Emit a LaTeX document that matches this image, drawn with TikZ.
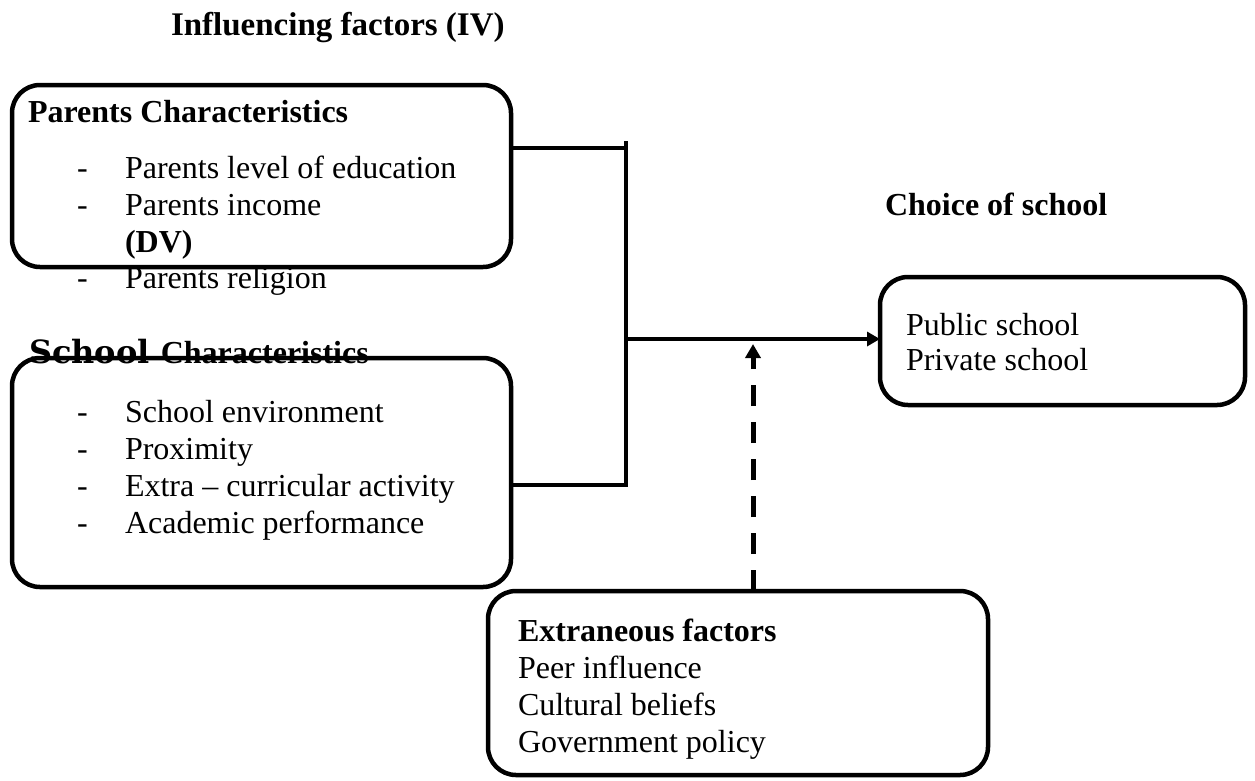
\documentclass[tikz,border=0pt]{standalone}
\usepackage{fontspec}
\setmainfont{Liberation Serif}
\newfontfamily\dvsfont{DejaVu Serif}
\usetikzlibrary{arrows.meta}
\tikzset{
  box/.style={draw, line width=4.5pt, rounded corners=28pt, inner sep=0pt, outer sep=0pt, anchor=north west},
  txt/.style={anchor=base west, inner sep=0pt, outer sep=0pt, font=\fontsize{32}{37}\selectfont},
  btxt/.style={txt, font=\fontsize{32}{37}\selectfont\bfseries},
  conn/.style={line width=4.5pt},
  dashline/.style={line width=5pt, dash pattern=on 21pt off 16pt}
}
\begin{document}
\begin{tikzpicture}[x=1pt,y=-1pt]
\useasboundingbox (0,0) rectangle (1255,780);
% boxes
\node[box, minimum width=499pt, minimum height=182pt] (pbox) at (12,85) {};
\node[box, minimum width=499pt, minimum height=229pt] (sbox) at (12,358) {};
\node[box, minimum width=365pt, minimum height=128pt] (cbox) at (880,277) {};
\node[box, minimum width=500pt, minimum height=184pt] (ebox) at (488,591) {};
% title
\node[btxt, font=\fontsize{33}{37}\selectfont\bfseries] (title) at (171,35) {Influencing factors (IV)};
% parents
\node[btxt] (ph) at (28,122) {Parents Characteristics};
\node[txt] (pd1) at (77,178) {-};
\node[txt] (p1) at (125,178) {Parents level of education};
\node[txt] (pd2) at (77,215) {-};
\node[txt] (p2) at (125,215) {Parents income};
\node[btxt] (dv) at (125,252) {(DV)};
\node[txt] (pd3) at (77,288) {-};
\node[txt] (p3) at (125,288) {Parents religion};
% school
\node[txt] (sh) at (29,363) {\dvsfont\bfseries School \rmfamily Characteristics};
\node[txt] (sd1) at (77,422) {-};
\node[txt] (s1) at (125,422) {School environment};
\node[txt] (sd2) at (77,459) {-};
\node[txt] (s2) at (125,459) {Proximity};
\node[txt] (sd3) at (77,496) {-};
\node[txt] (s3) at (125,496) {Extra -- curricular activity};
\node[txt] (sd4) at (77,533) {-};
\node[txt] (s4) at (125,533) {Academic performance};
% choice
\node[btxt] (ch) at (885,215) {Choice of school};
\node[txt] (c1) at (906,335) {Public school};
\node[txt] (c2) at (906,370) {Private school};
% extraneous
\node[btxt] (eh) at (518,641) {Extraneous factors};
\node[txt] (e1) at (518,678) {Peer influence};
\node[txt] (e2) at (518,715) {Cultural beliefs};
\node[txt] (e3) at (518,752) {Government policy};
% connectors
\coordinate (ptap) at (626,148);
\coordinate (stap) at (626,485);
\coordinate (jtop) at (626,143);
\coordinate (mid) at (626,339);
\coordinate (dtip) at (753,344);
\draw[conn] (pbox.east |- ptap) -- (ptap);
\draw[conn] (sbox.east |- stap) -- (stap);
\draw[conn, line cap=rect] (jtop) -- (stap);
\draw[conn, -{Triangle[length=13pt,width=14pt]}] (mid) -- (cbox.west |- mid);
\draw[dashline, -{Triangle[length=14pt,width=15pt]}] (ebox.north -| dtip) -- (dtip);
\end{tikzpicture}
\end{document}
